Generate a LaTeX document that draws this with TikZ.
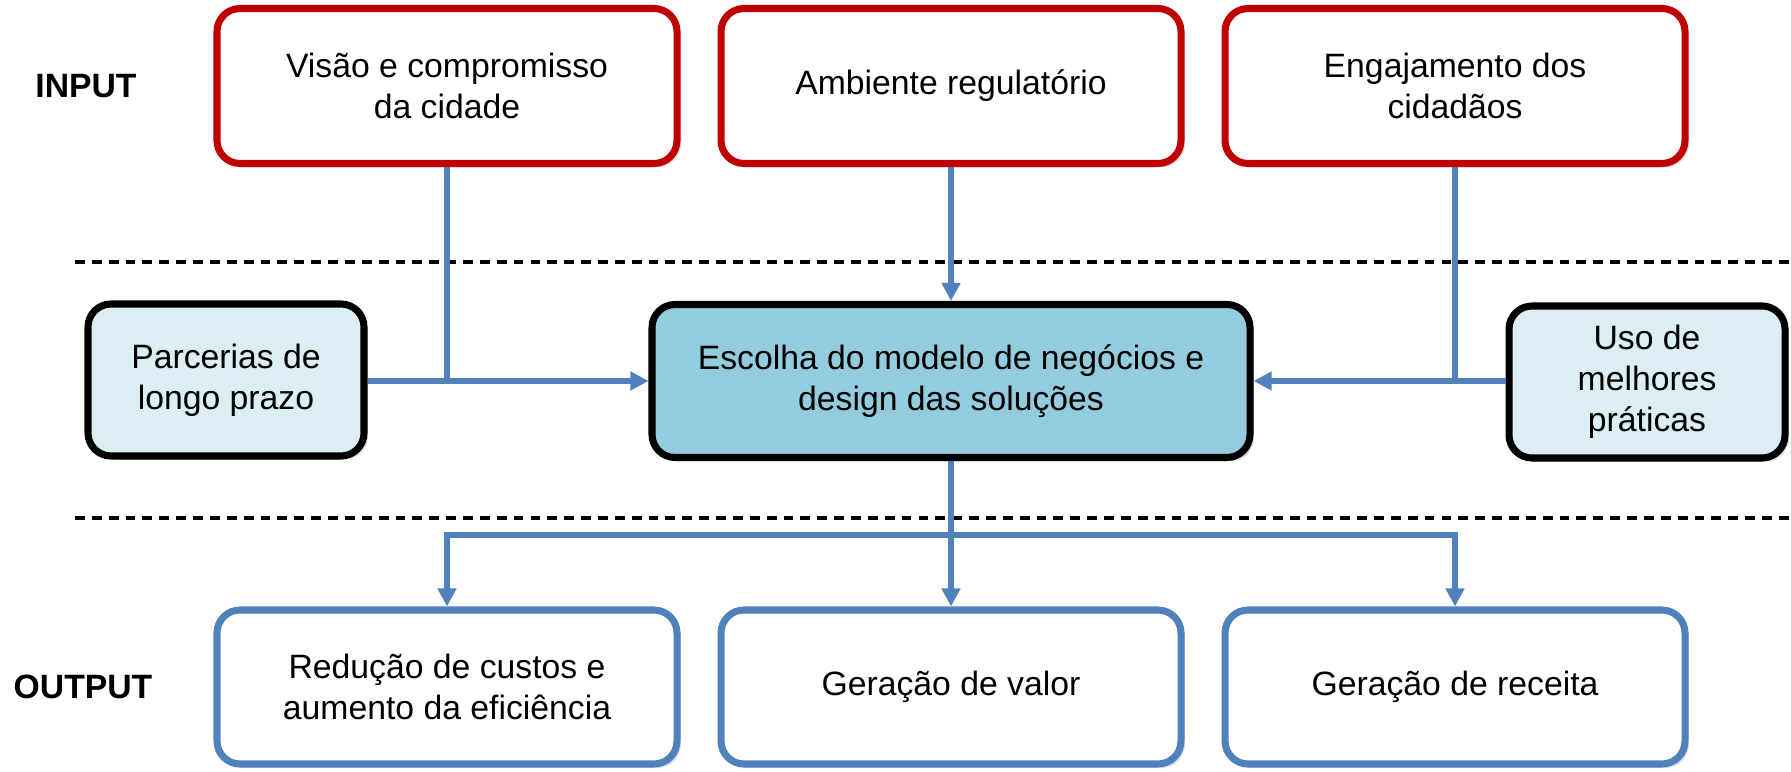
\documentclass[tikz,border=0pt]{standalone}
\usepackage{fontspec}
\setmainfont{Liberation Sans}
\usepackage{tikz}
\usetikzlibrary{arrows.meta,shadows,positioning}
\definecolor{boxred}{HTML}{C00000}
\definecolor{boxblue}{HTML}{4F81BD}
\definecolor{paleblue}{HTML}{DAEEF3}
\definecolor{coreblue}{HTML}{93CDDD}

\begin{document}
\begin{tikzpicture}
  [every node/.style={font=\fontsize{9.6}{11.6}\selectfont,align=center},
   boxbase/.style={rectangle,rounded corners=2.3mm,line width=2pt,
     drop shadow={opacity=0.25,shadow xshift=1.1pt,shadow yshift=-1.1pt}},
   inputbox/.style={boxbase,draw=boxred,fill=white,minimum width=4.6cm,minimum height=1.55cm},
   outputbox/.style={boxbase,draw=boxblue,fill=white,minimum width=4.6cm,minimum height=1.54cm},
   sidebox/.style={boxbase,draw=black,fill=paleblue,minimum width=2.76cm,minimum height=1.52cm},
   corebox/.style={boxbase,draw=black,fill=coreblue,minimum width=5.98cm,minimum height=1.53cm},
   conn/.style={draw=boxblue,line width=1.7pt},
   arrow/.style={conn,-{Triangle[length=1.8mm,width=1.8mm]}},
   level/.style={font=\fontsize{9.6}{11.6}\selectfont\bfseries}]
  \useasboundingbox (0,0) rectangle (17.91,7.71);
  % section labels and separators
  \node[level] (inlabel) at (0.86,6.85) {INPUT};
  \node[level] (outlabel) at (0.83,0.84) {OUTPUT};
  \draw[line width=0.9pt,dash pattern=on 2.8pt off 2pt] (0.75,5.09) -- (17.91,5.09);
  \draw[line width=0.9pt,dash pattern=on 2.8pt off 2pt] (0.75,2.53) -- (17.91,2.53);
  % inputs
  \node[inputbox] (vision) at (4.47,6.85) {Visão e compromisso\\da cidade};
  \node[inputbox] (regulatory) at (9.51,6.85) {Ambiente regulatório};
  \node[inputbox] (engagement) at (14.55,6.85) {Engajamento dos\\cidadãos};
  % middle row
  \node[corebox] (choice) at (9.51,3.90) {Escolha do modelo de negócios e\\design das soluções};
  \node[sidebox] (partners) at (2.26,3.91) {Parcerias de\\longo prazo};
  \node[sidebox] (practices) at (16.47,3.89) {Uso de\\melhores\\práticas};
  % outputs
  \node[outputbox] (costs) at (4.47,0.84) {Redução de custos e\\aumento da eficiência};
  \node[outputbox] (value) at (9.51,0.84) {Geração de valor};
  \node[outputbox] (revenue) at (14.55,0.84) {Geração de receita};
  \coordinate (split) at (9.51,2.36);
  % connectors
  \draw[conn] (vision.south) -- (vision.south |- choice.west);
  \draw[arrow] (partners.east |- choice.west) -- (choice.west);
  \draw[arrow] (regulatory.south) -- (choice.north);
  \draw[conn] (engagement.south) -- (engagement.south |- choice.east);
  \draw[arrow] (practices.west |- choice.east) -- (choice.east);
  \draw[conn] (choice.south) -- (split);
  \draw[arrow] (split) -| (costs.north);
  \draw[arrow] (split) -- (value.north);
  \draw[arrow] (split) -| (revenue.north);
\end{tikzpicture}
\end{document}
